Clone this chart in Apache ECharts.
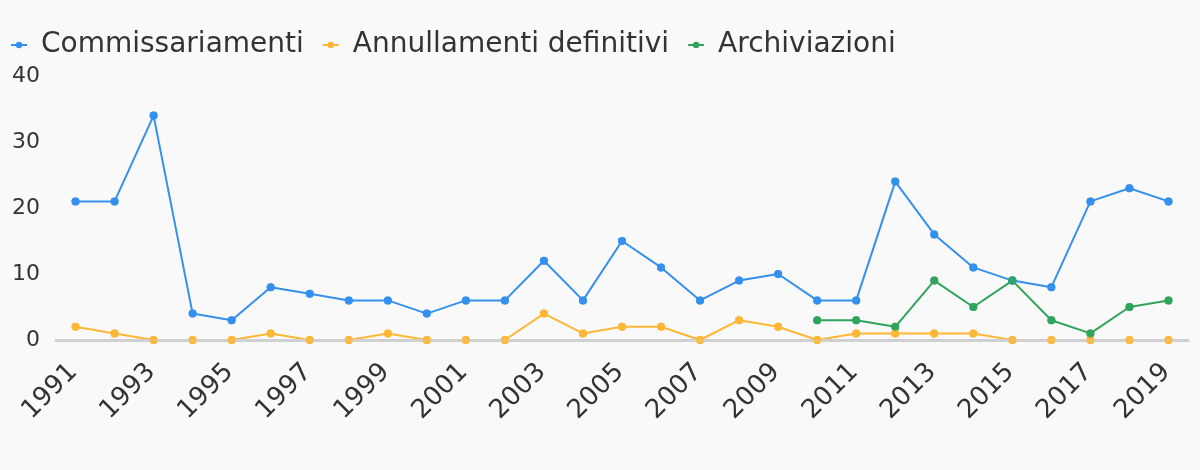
<!DOCTYPE html>
<html><head><meta charset="utf-8">
<script src="https://cdn.jsdelivr.net/npm/echarts@6/dist/echarts.min.js"></script>
<style>html,body{margin:0;padding:0;background:#f9f9f9}#c{width:1200px;height:470px}</style>
</head><body><div id="c"></div>
<script>
const years = ['1991','1992','1993','1994','1995','1996','1997','1998','1999','2000','2001','2002','2003','2004','2005','2006','2007','2008','2009','2010','2011','2012','2013','2014','2015','2016','2017','2018','2019'];
const commissariamenti = [21,21,34,4,3,8,7,6,6,4,6,6,12,6,15,11,6,9,10,6,6,24,16,11,9,8,21,23,21];
const annullamenti = [2,1,0,0,0,1,0,0,1,0,0,0,4,1,2,2,0,3,2,0,1,1,1,1,0,0,0,0,0];
const archiviazioni = [null,null,null,null,null,null,null,null,null,null,null,null,null,null,null,null,null,null,null,3,3,2,9,5,9,3,1,5,6];
const seriesNames = ['Commissariamenti','Annullamenti definitivi','Archiviazioni'];
const colors = ['#3590ee','#fdb735','#2fa55c'];
const font = 'DejaVu Sans';
const chart = echarts.init(document.getElementById('c'));
const mkLine = (name, data, c) => ({
  name, type:'line', data, color:c, symbol:'circle', symbolSize:8,
  lineStyle:{width:2}, itemStyle:{color:c}, z:2
});
const mkDots = (name, data, c) => ({
  name: name + ' ', type:'scatter', data, color:c, symbol:'circle', symbolSize:8,
  itemStyle:{color:c}, z:4, silent:true
});
const datasets = [commissariamenti, annullamenti, archiviazioni];
const series = [];
seriesNames.forEach((n,i)=>series.push(mkLine(n, datasets[i], colors[i])));
seriesNames.forEach((n,i)=>series.push(mkDots(n, datasets[i], colors[i])));
chart.setOption({
  backgroundColor:'#f9f9f9',
  animation:false,
  textStyle:{fontFamily:font},
  legend:{left:5, top:26, itemWidth:16, itemHeight:8, itemGap:18,
    textStyle:{fontSize:28, color:'#333', fontFamily:font, padding:[0,0,0,9]},
    data:seriesNames},
  grid:{left:56, right:12, top:76, bottom:130},
  xAxis:{type:'category', data:years, boundaryGap:true, z:3,
    axisLine:{lineStyle:{color:'#d0d0d0', width:3}}, axisTick:{show:false},
    axisLabel:{interval:1, rotate:45, fontSize:26, color:'#333', margin:26, padding:[0,3,0,0], fontFamily:font}},
  yAxis:{type:'value', min:0, max:40, interval:10, splitLine:{show:false},
    axisLabel:{fontSize:22, color:'#333', margin:16, fontFamily:font}},
  series
});
</script></body></html>
